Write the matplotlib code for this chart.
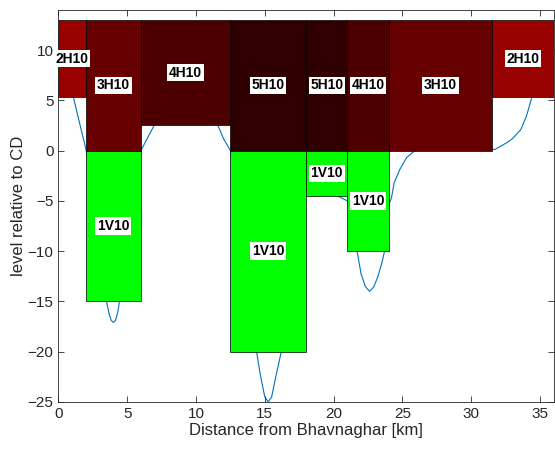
import matplotlib.pyplot as plt
import numpy as np

plt.rcParams['font.family'] = ['Liberation Sans', 'DejaVu Sans']

# bed profile along the channel (km, m relative to CD)
bed_x = [0.0, 0.5, 1.1, 1.5, 2.0, 2.5, 3.0, 3.5, 3.7, 3.85, 4.0, 4.15, 4.3, 4.45,
         5.0, 5.5, 6.0, 6.5, 7.0, 8.0, 9.0, 10.0, 11.0, 11.6, 12.0, 12.5,
         13.0, 13.5, 14.0, 14.4, 14.7, 15.0, 15.25, 15.5, 15.8, 16.2, 16.8, 17.5,
         18.0, 19.0, 20.0, 20.3, 20.7, 21.0, 21.3, 21.7, 22.0, 22.3, 22.6, 22.9,
         23.2, 23.5, 23.7, 24.0, 24.2, 24.4, 24.8, 25.3, 25.9, 27.0, 28.0, 29.0,
         30.0, 31.0, 31.7, 32.6, 33.0, 33.6, 34.0, 34.4, 35.0, 36.0]
bed_y = [9.0, 7.5, 5.3, 3.0, 0.2, -4.0, -9.0, -15.0, -16.3, -16.9, -17.1, -16.9, -16.2, -15.0,
         -9.0, -4.0, 0.0, 1.3, 2.6, 4.5, 5.5, 5.5, 4.0, 2.5, 1.2, 0.0,
         -5.0, -11.0, -17.0, -20.0, -22.5, -24.5, -25.0, -24.5, -22.5, -20.0, -15.0, -8.0,
         -4.3, -3.8, -4.2, -4.5, -4.8, -5.0, -7.0, -10.0, -12.3, -13.5, -14.0, -13.6,
         -12.6, -11.2, -10.0, -5.5, -4.7, -3.2, -1.9, -0.7, 0.0, 1.0, 1.5, 1.5,
         1.0, 0.3, 0.1, 0.8, 1.2, 2.1, 3.4, 5.3, 7.5, 9.0]

# horizontal (H) elements
h_start = [0, 2, 6, 12.5, 18, 21, 24, 31.5]
h_end = [2, 6, 12.5, 18, 21, 24, 31.5, 36]
h_bottom = [5.3, 0, 2.5, 0, 0, 0, 0, 5.3]
h_top = 13
h_label = ['2H10', '3H10', '4H10', '5H10', '5H10', '4H10', '3H10', '2H10']

# vertical (V) elements
v_start = [2, 12.5, 18, 21]
v_end = [6, 18, 21, 24]
v_depth = [-15, -20, -4.5, -10]
v_label = ['1V10', '1V10', '1V10', '1V10']

h_colors = {'2H10': '#990000', '3H10': '#660000', '4H10': '#4c0000', '5H10': '#300000'}
v_color = '#00ff00'

fig = plt.figure(figsize=(5.55, 4.5), dpi=100)
ax = fig.add_axes([0.105, 0.107, 0.893, 0.871])

ax.plot(bed_x, bed_y, color=(0, 0.447, 0.741), lw=0.8, zorder=1)

label_box = dict(facecolor='white', edgecolor='none', pad=1.2)

for x0, x1, b, lab in zip(h_start, h_end, h_bottom, h_label):
    ax.bar(x0, h_top - b, width=x1 - x0, bottom=b, align='edge',
           color=h_colors[lab], edgecolor='black', linewidth=0.5, zorder=2)
    ax.text((x0 + x1) / 2, (b + h_top) / 2, lab, ha='center', va='center',
            fontsize=10, fontweight='bold', bbox=label_box, zorder=4)

for x0, x1, d, lab in zip(v_start, v_end, v_depth, v_label):
    ax.bar(x0, d, width=x1 - x0, bottom=0, align='edge',
           color=v_color, edgecolor='black', linewidth=0.5, zorder=2)
    ax.text((x0 + x1) / 2, d / 2, lab, ha='center', va='center',
            fontsize=10, fontweight='bold', bbox=label_box, zorder=4)

ax.set_xlim(0, 36)
ax.set_ylim(-25, 14)
ax.set_xticks(np.arange(0, 36, 5))
ax.set_yticks(np.arange(-25, 11, 5))

gray = '#262626'
for s in ax.spines.values():
    s.set_color(gray)
    s.set_linewidth(0.6)
ax.tick_params(direction='in', top=True, right=True, length=4, width=0.6,
               colors=gray, labelsize=11, labelcolor=gray)
ax.set_xlabel('Distance from Bhavnaghar [km]', fontsize=12, color=gray, labelpad=2)
ax.set_ylabel('level relative to CD', fontsize=12, color=gray, labelpad=1)

fig.savefig('out.png', dpi=100)
